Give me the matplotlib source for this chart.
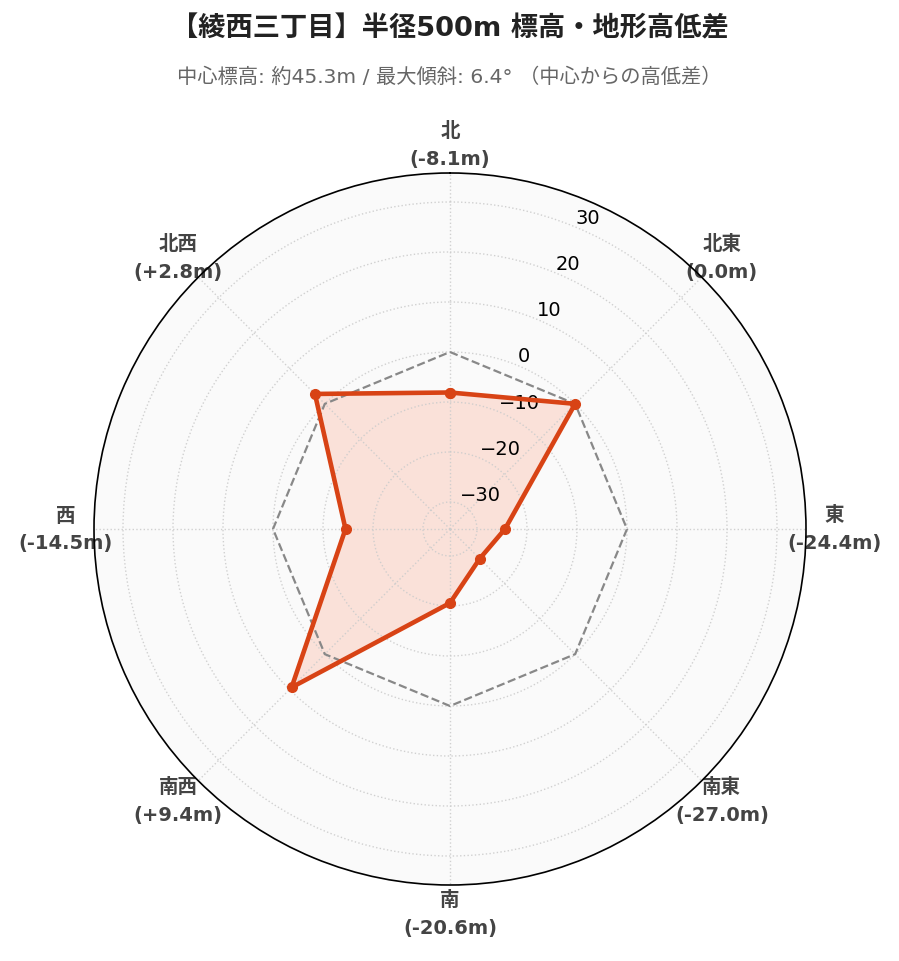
import matplotlib
matplotlib.use('Agg')
import matplotlib.pyplot as plt
import numpy as np

plt.rcParams['font.family'] = ['DejaVu Sans', 'Noto Sans CJK JP']

directions = ['北', '北東', '東', '南東', '南', '南西', '西', '北西']
diffs = [-8.1, 0.0, -24.4, -27.0, -20.6, 9.4, -14.5, 2.8]
rticks = [-30, -20, -10, 0, 10, 20, 30]

title = '【綾西三丁目】半径500m 標高・地形高低差'
subtitle = '中心標高: 約45.3m / 最大傾斜: 6.4° （中心からの高低差）'

line_color = '#D84315'
fill_color = '#FF5722'

angles = np.deg2rad(np.arange(len(directions)) * 45.0)
closed_angles = np.append(angles, angles[0])
closed_diffs = np.append(diffs, diffs[0])
zero_line = np.zeros_like(closed_angles)

fig = plt.figure(figsize=(8.99, 9.62), dpi=100)
ax = fig.add_axes([94 / 899, 76 / 962, 712 / 899, 712 / 962], projection='polar')
ax.set_facecolor('#fafafa')
ax.set_theta_zero_location('N')
ax.set_theta_direction(-1)
ax.set_ylim(-35.4, 35.8)

ax.plot(closed_angles, zero_line, color='#888888', linestyle='--', linewidth=1.6, zorder=2)
ax.fill(closed_angles, closed_diffs, color=fill_color, alpha=0.15, zorder=1)
ax.plot(closed_angles, closed_diffs, color=line_color, linewidth=3.3, marker='o',
        markersize=7, zorder=3)

labels = [f'{d}\n({v:+.1f}m)' if v > 0 else f'{d}\n({v:.1f}m)' for d, v in zip(directions, diffs)]
ax.set_xticks(angles)
ax.set_xticklabels(labels, fontsize=14, fontweight='bold', color='#444444', linespacing=1.6)
ax.tick_params(axis='x', pad=10)

ax.set_yticks(rticks)
ax.set_yticklabels([f'{t}'.replace('-', '\u2212') for t in rticks], fontsize=14)
ax.set_rlabel_position(22.5)

ax.grid(True, color='#cccccc', linestyle=':', linewidth=1.0, alpha=0.9)
ax.spines['polar'].set_color('black')
ax.spines['polar'].set_linewidth(1.2)

fig.text(0.5, 1 - 29 / 962, title, ha='center', va='center', fontsize=19.6, fontweight='bold',
         color='#222222')
fig.text(0.5, 1 - 77 / 962, subtitle, ha='center', va='center', fontsize=14.6, color='#666666')

fig.savefig('out.png', dpi=100)
plt.close(fig)
